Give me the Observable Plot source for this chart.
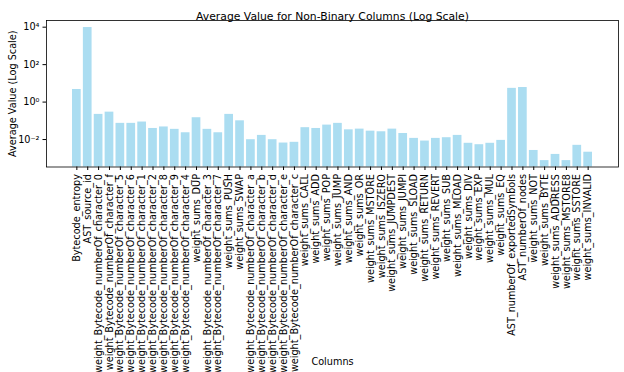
<!DOCTYPE html>
<html><head><meta charset="utf-8">
<script src="https://cdn.jsdelivr.net/npm/d3@7"></script>
<script src="https://cdn.jsdelivr.net/npm/@observablehq/plot@0.6"></script>
<style>body{margin:0;background:#fff} svg{font-family:"DejaVu Sans",sans-serif}</style>
</head><body><div id="chart"></div>
<script>
const columns = [
  "Bytecode_entropy","AST_source_id",
  "weight_Bytecode_numberOf_character_0","weight_Bytecode_numberOf_character_f",
  "weight_Bytecode_numberOf_character_5","weight_Bytecode_numberOf_character_6",
  "weight_Bytecode_numberOf_character_1","weight_Bytecode_numberOf_character_2",
  "weight_Bytecode_numberOf_character_8","weight_Bytecode_numberOf_character_9",
  "weight_Bytecode_numberOf_character_4","weight_sums_DUP",
  "weight_Bytecode_numberOf_character_3","weight_Bytecode_numberOf_character_7",
  "weight_sums_PUSH","weight_sums_SWAP",
  "weight_Bytecode_numberOf_character_a","weight_Bytecode_numberOf_character_b",
  "weight_Bytecode_numberOf_character_d","weight_Bytecode_numberOf_character_e",
  "weight_Bytecode_numberOf_character_c",
  "weight_sums_CALL","weight_sums_ADD","weight_sums_POP","weight_sums_JUMP",
  "weight_sums_AND","weight_sums_OR","weight_sums_MSTORE","weight_sums_ISZERO",
  "weight_sums_JUMPDEST","weight_sums_JUMPI","weight_sums_SLOAD","weight_sums_RETURN",
  "weight_sums_REVERT","weight_sums_SUB","weight_sums_MLOAD","weight_sums_DIV",
  "weight_sums_EXP","weight_sums_MUL","weight_sums_EQ",
  "AST_numberOf_exportedSymbols","AST_numberOf_nodes",
  "weight_sums_NOT","weight_sums_BYTE","weight_sums_ADDRESS","weight_sums_MSTORE8",
  "weight_sums_SSTORE","weight_sums_INVALID"
];
const values = [
  4.7, 9600, 0.22, 0.29, 0.073, 0.073, 0.086, 0.039, 0.047, 0.035, 0.023, 0.146,
  0.035, 0.023, 0.22, 0.10, 0.0098, 0.0166, 0.0098, 0.0065, 0.0071,
  0.043, 0.039, 0.059, 0.073, 0.033, 0.036, 0.028, 0.026, 0.036, 0.021, 0.0115, 0.0083,
  0.0115, 0.0125, 0.0166, 0.0063, 0.0053, 0.0063, 0.009,
  5.4, 6.0, 0.0026, 0.00075, 0.0016, 0.00075, 0.0049, 0.0021
];
const yTicks = [1e-2, 1, 1e2, 1e4];
const yTickLabels = ["10\u207B\u00B2", "10\u2070", "10\u00B2", "10\u2074"];
const title = "Average Value for Non-Binary Columns (Log Scale)";
const xLabel = "Columns";
const yLabel = "Average Value (Log Scale)";

const data = columns.map((c, i) => ({column: c, value: values[i]}));
const yMin = Math.pow(10, -3.467), yMax = Math.pow(10, 4.357);

const chart = Plot.plot({
  width: 624, height: 372,
  marginLeft: 46, marginRight: 6, marginTop: 20, marginBottom: 205.5,
  style: {fontFamily: "DejaVu Sans", fontSize: "9.7px", color: "#000", background: "#fff"},
  x: {type: "band", domain: columns, paddingInner: 0.2, paddingOuter: 2.39, label: null},
  y: {type: "log", domain: [yMin, yMax], label: null},
  marks: [
    Plot.barY(data, {x: "column", y1: yMin, y2: "value", fill: "skyblue", fillOpacity: 0.7}),
    Plot.axisX({tickRotate: -90, tickSize: 3.5, tickPadding: 3.5, label: xLabel,
      labelAnchor: "center", labelOffset: 198, labelArrow: "none"}),
    Plot.axisY({ticks: yTicks, tickFormat: d => yTickLabels[yTicks.indexOf(d)],
      tickSize: 3.5, tickPadding: 3.5, label: yLabel, labelAnchor: "center",
      labelOffset: 37, labelArrow: "none"}),
    Plot.frame({stroke: "#000", strokeWidth: 0.8}),
    Plot.text([title], {frameAnchor: "top", dy: -8, fontSize: 10.8, text: d => d})
  ]
});
document.getElementById("chart").appendChild(chart);
</script>
</body></html>
